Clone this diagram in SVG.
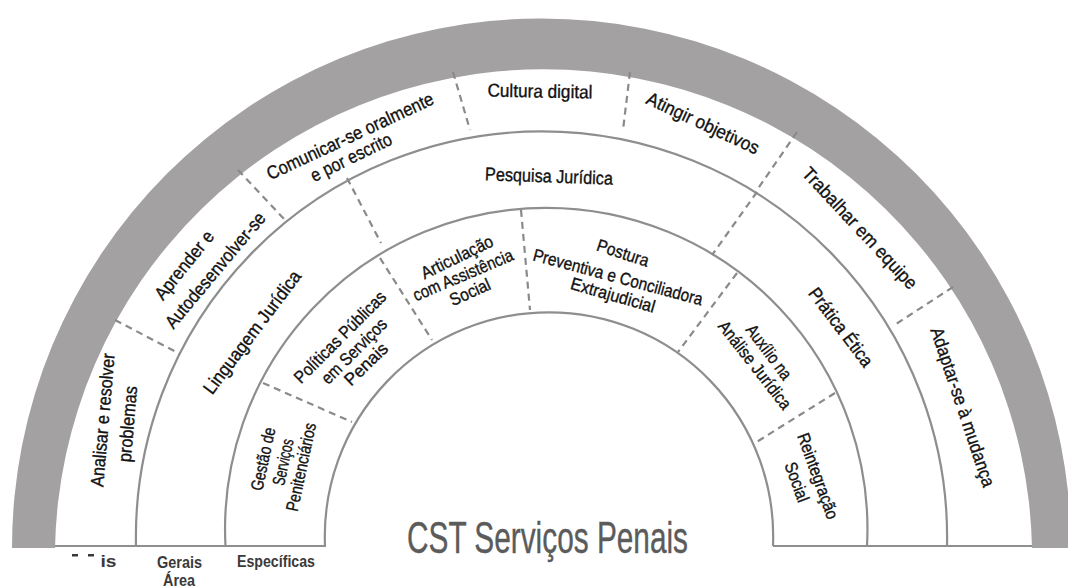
<svg xmlns="http://www.w3.org/2000/svg" width="1068" height="587" viewBox="0 0 1068 587">
<style>
.arc{fill:none;stroke:#8e8e8e;stroke-width:2.2}
.div{fill:none;stroke:#8a8a8a;stroke-width:2.2;stroke-dasharray:7 5}
.lbl{font-family:"Liberation Sans",Arial,sans-serif;font-size:18.5px;fill:#111;stroke:#111;stroke-width:0.35;text-anchor:middle;dominant-baseline:central}
.sm{font-size:17.5px}
.ttl{font-family:"Liberation Sans",Arial,sans-serif;font-size:44px;fill:#5b5b5b;stroke:#5b5b5b;stroke-width:0.4;text-anchor:middle}
.bot{font-family:"Liberation Sans",Arial,sans-serif;font-size:16.5px;font-weight:bold;fill:#3a3a3a;text-anchor:middle}
</style>
<rect width="1068" height="587" fill="#fff"/>
<g id="frame">
<path d="M 12 548 A 529.5 529.5 0 1 1 1071 548 L 1032 548 A 488.6 488.6 0 0 0 55 548 Z" fill="#a3a1a1"/>
<path class="arc" d="M 136 546 A 405.6 405.6 0 1 1 947 546"/>
<path class="arc" d="M 225.5 546 A 321.2 321.2 0 1 1 867 546"/>
<path class="arc" d="M 325 546 A 224.2 224.2 0 1 1 773 546"/>
<path class="arc" d="M 55 546 H 326 M 773 546 H 1032" stroke-width="2.6"/>
</g>
<g id="connectors">
<path class="div" d="M 115 320 L 180 354"/>
<path class="div" d="M 238 170 L 284 219"/>
<path class="div" d="M 453 72 L 470 130"/>
<path class="div" d="M 630 72 L 623 130"/>
<path class="div" d="M 797 132 L 757 190"/>
<path class="div" d="M 953 287 L 893 326"/>
<path class="div" d="M 347 178 L 381 243"/>
<path class="div" d="M 757 192 L 712 255"/>
<path class="div" d="M 263 383 L 352 422"/>
<path class="div" d="M 380 258 L 432 340"/>
<path class="div" d="M 521 210 L 530 310"/>
<path class="div" d="M 737 273 L 678 352"/>
<path class="div" d="M 835 393 L 755 443"/>
</g>
<g id="analisar"><text class="lbl" transform="translate(102.5 420) rotate(-85)" textLength="134" lengthAdjust="spacingAndGlyphs">Analisar e resolver</text><text class="lbl" transform="translate(127.5 424) rotate(-85)" textLength="76" lengthAdjust="spacingAndGlyphs">problemas</text></g>
<g id="aprender"><text class="lbl" transform="translate(184 265) rotate(-51)" textLength="83" lengthAdjust="spacingAndGlyphs">Aprender e</text><text class="lbl" transform="translate(215 270) rotate(-50)" textLength="145" lengthAdjust="spacingAndGlyphs">Autodesenvolver-se</text></g>
<g id="comunicar"><text class="lbl" transform="translate(350 136) rotate(-25)" textLength="182" lengthAdjust="spacingAndGlyphs">Comunicar-se oralmente</text><text class="lbl" transform="translate(351 157) rotate(-26)" textLength="88" lengthAdjust="spacingAndGlyphs">e por escrito</text></g>
<g id="cultura"><text class="lbl" transform="translate(540 91) rotate(1)" textLength="105" lengthAdjust="spacingAndGlyphs">Cultura digital</text></g>
<g id="atingir"><text class="lbl" transform="translate(703 123) rotate(25)" textLength="122" lengthAdjust="spacingAndGlyphs">Atingir objetivos</text></g>
<g id="trabalhar"><text class="lbl" transform="translate(860 228) rotate(47)" textLength="159" lengthAdjust="spacingAndGlyphs">Trabalhar em equipe</text></g>
<g id="adaptar"><text class="lbl" transform="translate(963 407) rotate(71.5)" textLength="167" lengthAdjust="spacingAndGlyphs">Adaptar-se à mudança</text></g>
<g id="linguagem"><text class="lbl" transform="translate(252 332) rotate(-53)" textLength="149" lengthAdjust="spacingAndGlyphs">Linguagem Jurídica</text></g>
<g id="pesquisa"><text class="lbl" transform="translate(549 176) rotate(2)" textLength="128" lengthAdjust="spacingAndGlyphs">Pesquisa Jurídica</text></g>
<g id="pratica"><text class="lbl" transform="translate(841 327) rotate(53)" textLength="94" lengthAdjust="spacingAndGlyphs">Prática Ética</text></g>
<g id="gestao"><text class="lbl sm" transform="translate(263 459) rotate(-78)" textLength="64" lengthAdjust="spacingAndGlyphs">Gestão de</text><text class="lbl sm" transform="translate(283 462) rotate(-78)" textLength="47" lengthAdjust="spacingAndGlyphs">Serviços</text><text class="lbl sm" transform="translate(301 467) rotate(-78)" textLength="90" lengthAdjust="spacingAndGlyphs">Penitenciários</text></g>
<g id="politicas"><text class="lbl sm" transform="translate(340 337) rotate(-45)" textLength="122" lengthAdjust="spacingAndGlyphs">Políticas Públicas</text><text class="lbl sm" transform="translate(354 351) rotate(-45)" textLength="85" lengthAdjust="spacingAndGlyphs">em Serviços</text><text class="lbl sm" transform="translate(366 364) rotate(-44)" textLength="53" lengthAdjust="spacingAndGlyphs">Penais</text></g>
<g id="articulacao"><text class="lbl sm" transform="translate(457 257) rotate(-26)" textLength="78" lengthAdjust="spacingAndGlyphs">Articulação</text><text class="lbl sm" transform="translate(463 275) rotate(-23)" textLength="107" lengthAdjust="spacingAndGlyphs">com Assistência</text><text class="lbl sm" transform="translate(470 292) rotate(-24)" textLength="43" lengthAdjust="spacingAndGlyphs">Social</text></g>
<g id="postura"><text class="lbl sm" transform="translate(623 253) rotate(18)" textLength="54" lengthAdjust="spacingAndGlyphs">Postura</text><text class="lbl sm" transform="translate(618 277) rotate(15)" textLength="175" lengthAdjust="spacingAndGlyphs">Preventiva e Conciliadora</text><text class="lbl sm" transform="translate(613 295) rotate(16)" textLength="87" lengthAdjust="spacingAndGlyphs">Extrajudicial</text></g>
<g id="auxilio"><text class="lbl sm" transform="translate(769 352) rotate(53)" textLength="64" lengthAdjust="spacingAndGlyphs">Auxílio na</text><text class="lbl sm" transform="translate(755 365) rotate(52)" textLength="107" lengthAdjust="spacingAndGlyphs">Análise Jurídica</text></g>
<g id="reintegracao"><text class="lbl sm" transform="translate(818 476) rotate(70)" textLength="90" lengthAdjust="spacingAndGlyphs">Reintegração</text><text class="lbl sm" transform="translate(797 482) rotate(70)" textLength="41" lengthAdjust="spacingAndGlyphs">Social</text></g>
<g id="title"><text class="ttl" x="547.5" y="553" textLength="281" lengthAdjust="spacingAndGlyphs">CST Serviços Penais</text></g>
<g id="legend">
<rect x="72" y="554" width="6" height="2.5" fill="#3a3a3a"/>
<rect x="88" y="554" width="6" height="2.5" fill="#3a3a3a"/>
<text class="bot" x="108.5" y="567" textLength="16" lengthAdjust="spacingAndGlyphs">is</text>
<text class="bot" x="179.5" y="568" textLength="45" lengthAdjust="spacingAndGlyphs">Gerais</text>
<text class="bot" x="179" y="586" textLength="32" lengthAdjust="spacingAndGlyphs">Área</text>
<text class="bot" x="276" y="567" textLength="78" lengthAdjust="spacingAndGlyphs">Específicas</text>
</g>
</svg>
